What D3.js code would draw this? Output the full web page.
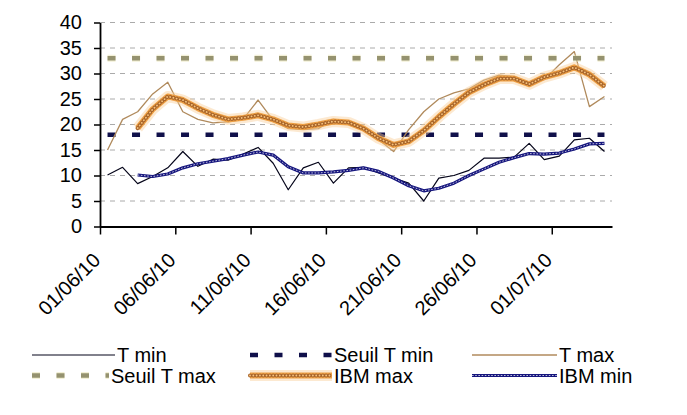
<!DOCTYPE html>
<html><head><meta charset="utf-8">
<script src="https://cdn.jsdelivr.net/npm/d3@7"></script>
<style>
body{margin:0;background:#fff}
text{font-family:"Liberation Sans",Arial,sans-serif;fill:#000}
</style>
</head><body>
<svg id="c" width="687" height="415"></svg>
<script>
// ---- data ----
const dates = ["2010-06-01","2010-06-02","2010-06-03","2010-06-04","2010-06-05","2010-06-06","2010-06-07","2010-06-08","2010-06-09","2010-06-10",
  "2010-06-11","2010-06-12","2010-06-13","2010-06-14","2010-06-15","2010-06-16","2010-06-17","2010-06-18","2010-06-19","2010-06-20",
  "2010-06-21","2010-06-22","2010-06-23","2010-06-24","2010-06-25","2010-06-26","2010-06-27","2010-06-28","2010-06-29","2010-06-30",
  "2010-07-01","2010-07-02","2010-07-03","2010-07-04"];
const tMin = [10.1,11.6,8.4,9.8,11.5,14.7,11.8,13.2,13.0,14.2,15.5,12.4,7.2,11.5,12.6,8.5,11.5,11.6,10.5,9.5,8.5,5.0,9.5,10.0,11.0,13.4,13.4,13.6,16.3,13.1,13.8,17.0,17.3,14.7];
const tMax = [15.0,21.0,22.5,26.0,28.3,22.5,21.0,20.3,20.5,21.0,24.8,20.8,19.2,19.0,19.2,21.0,20.3,19.5,17.0,14.7,19.0,22.5,25.0,26.2,27.0,28.7,29.7,29.4,28.1,28.8,31.7,34.3,23.5,25.5];
const ibmMax = [null,null,19.3,23.0,25.5,24.8,23.2,21.9,21.0,21.3,21.8,21.0,19.8,19.5,20.0,20.6,20.4,19.2,17.3,16.0,16.7,18.8,21.5,24.0,26.3,27.8,29.0,29.0,27.9,29.3,30.1,31.2,29.8,27.5];
const ibmMin = [null,null,10.1,9.8,10.3,11.5,12.3,12.8,13.3,14.0,14.6,14.0,11.7,10.5,10.5,10.7,11.0,11.5,10.8,9.5,8.0,7.0,7.5,8.5,10.0,11.3,12.6,13.5,14.3,14.2,14.4,15.2,16.2,16.3];
const seuilTmin = 18;
const seuilTmax = 33;
const yTicks = [0,5,10,15,20,25,30,35,40];
const xTickDates = ["2010-06-01","2010-06-06","2010-06-11","2010-06-16","2010-06-21","2010-06-26","2010-07-01"];
const xTickLabels = ["01/06/10","06/06/10","11/06/10","16/06/10","21/06/10","26/06/10","01/07/10"];
const legendNames = ["T min","Seuil T min","T max","Seuil T max","IBM max","IBM min"];

// ---- chart ----
const svg = d3.select("#c");
const parse = d3.utcParse("%Y-%m-%d");
const D = dates.map(parse);
const x = d3.scaleUtc().domain([D[0], d3.utcDay.offset(D[D.length-1], 1)]).range([100, 612]);
const y = d3.scaleLinear().domain([0, 40]).range([226.5, 22.5]);
const px = d => x(d3.utcHour.offset(d, 12));

// gridlines
svg.append("g").selectAll("line").data(yTicks.filter(v => v > 0)).join("line")
  .attr("x1", 100).attr("x2", 612).attr("y1", d => y(d)).attr("y2", d => y(d))
  .attr("stroke", "#aaaaaa").attr("stroke-width", 1).attr("stroke-dasharray", "5,5");

const mk = vals => d3.line().defined(d => d[1] != null).x(d => px(d[0])).y(d => y(d[1]))(D.map((d, i) => [d, vals[i]]));

const styles = {
  "T min": [{stroke:"#05051a", w:1.2}],
  "Seuil T min": [{stroke:"#10104a", w:4.5, dash:"8,16.5"}],
  "T max": [{stroke:"#b08a5c", w:1.3}],
  "Seuil T max": [{stroke:"#e8e2b0", w:7, dash:"8,16.5", op:0.5}, {stroke:"#95926f", w:4.5, dash:"8,16.5"}],
  "IBM max": [{stroke:"#f9cf9a", w:11, op:0.45}, {stroke:"#eea044", w:6}, {stroke:"#a9652a", w:4, dash:"0.01,3.3", cap:"round"}, {stroke:"#f6c47e", w:1.8, dash:"0.01,3.3", cap:"round"}],
  "IBM min": [{stroke:"#16167e", w:3.2}, {stroke:"#ffffff", w:0.9, dash:"1.6,1.6", op:0.8}]
};

function drawPath(g, dstr, st) {
  st.forEach(s => {
    g.append("path").attr("d", dstr).attr("fill", "none")
      .attr("stroke", s.stroke).attr("stroke-width", s.w)
      .attr("stroke-dasharray", s.dash || null)
      .attr("stroke-linecap", s.cap || "butt")
      .attr("stroke-linejoin", "round")
      .attr("opacity", s.op == null ? 1 : s.op);
  });
}

const plot = svg.append("g");
const constLine = v => d3.line().x(d => px(d)).y(() => y(v))([D[0], D[D.length-1]]);
drawPath(plot, mk(tMin), styles["T min"]);
drawPath(plot, constLine(seuilTmin), styles["Seuil T min"]);
drawPath(plot, mk(tMax), styles["T max"]);
drawPath(plot, constLine(seuilTmax), styles["Seuil T max"]);
drawPath(plot, mk(ibmMax), styles["IBM max"]);
drawPath(plot, mk(ibmMin), styles["IBM min"]);

// axes
const yAxis = svg.append("g").attr("transform", "translate(100,0)")
  .call(d3.axisLeft(y).tickValues(yTicks).tickSize(6).tickSizeOuter(0).tickPadding(12).tickFormat(d3.format("d")));
yAxis.attr("font-size", 20).attr("font-family", "Liberation Sans, Arial, sans-serif");
yAxis.selectAll("text").attr("fill", "#000");
yAxis.selectAll("line").attr("stroke", "#000").attr("stroke-width", 1.5);
yAxis.select(".domain").attr("stroke", "#000").attr("stroke-width", 1.8);

const xAxis = svg.append("g").attr("transform", "translate(0,226.5)")
  .call(d3.axisBottom(x).tickValues(xTickDates.map(parse)).tickSize(8).tickSizeOuter(0)
    .tickFormat((d, i) => xTickLabels[i]));
xAxis.attr("font-size", 20).attr("font-family", "Liberation Sans, Arial, sans-serif");
xAxis.selectAll("line").attr("stroke", "#000").attr("stroke-width", 1.5);
xAxis.select(".domain").attr("stroke", "#000").attr("stroke-width", 1.8);
xAxis.selectAll("text").attr("fill", "#000")
  .attr("x", 0).attr("y", 0).attr("dy", 0)
  .attr("text-anchor", "end")
  .attr("transform", "translate(1,35) rotate(-45)");

// legend
const legPos = [
  {x1:32, x2:115, y:355}, {x1:250, x2:332, y:355}, {x1:472, x2:557, y:355},
  {x1:32, x2:109, y:375.5}, {x1:250, x2:332, y:375.5}, {x1:472, x2:557, y:375.5}
];
const leg = svg.append("g");
legendNames.forEach((name, i) => {
  const p = legPos[i];
  const g = leg.append("g");
  drawPath(g, `M${p.x1},${p.y}H${p.x2}`, styles[name]);
  g.append("text").attr("x", p.x2 + 2).attr("y", p.y).attr("dy", "0.36em")
    .attr("font-size", 20).text(name);
});
</script>
</body></html>
